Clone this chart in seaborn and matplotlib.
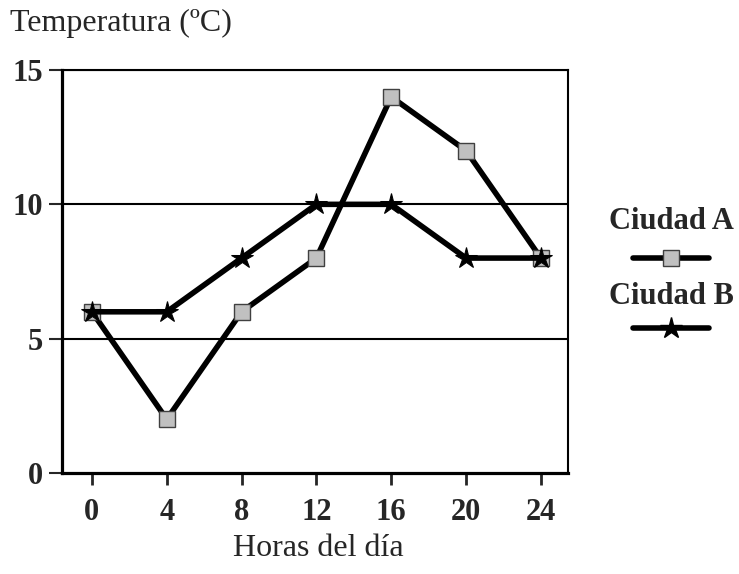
import pandas as pd
import numpy as np
import matplotlib.pyplot as plt
import seaborn as sns
from matplotlib.lines import Line2D

# data
horas = [0, 4, 8, 12, 16, 20, 24]
ciudad_a = [6, 2, 6, 8, 14, 12, 8]
ciudad_b = [6, 6, 8, 10, 10, 8, 8]
y_ticks = [0, 5, 10, 15]

df = pd.DataFrame({'horas': horas, 'Ciudad A': ciudad_a, 'Ciudad B': ciudad_b})

sns.set_style("white")
plt.rcParams['font.family'] = ['Liberation Serif', 'DejaVu Serif']

fig = plt.figure(figsize=(7.39, 5.74), dpi=100)
ax = fig.add_axes([62/739, 1-473/574, (568-62)/739, (473-70)/574])

# horizontal grid lines
for v in y_ticks[1:]:
    ax.axhline(v, color='black', lw=1.5, zorder=1)

sns.lineplot(data=df, x='horas', y='Ciudad A', ax=ax, color='black', lw=4,
             marker='s', markersize=12, markerfacecolor='#c0c0c0',
             markeredgecolor='#404040', markeredgewidth=1, zorder=3)
sns.lineplot(data=df, x='horas', y='Ciudad B', ax=ax, color='black', lw=4,
             marker='*', markersize=16, markerfacecolor='black',
             markeredgecolor='black', zorder=4)

ax.set_xlim(-1.6, 25.45)
ax.set_ylim(0, 15)
ax.set_xticks(horas)
ax.set_yticks(y_ticks)
ax.set_xticklabels([str(h) for h in horas], fontsize=22, fontweight='bold')
ax.set_yticklabels([str(v) for v in y_ticks], fontsize=22, fontweight='bold')
ax.tick_params(axis='x', direction='out', length=8.6, width=2, pad=9.5, bottom=True)
ax.tick_params(axis='y', direction='out', length=9.4, width=1.5, pad=4, left=True)
ax.set_xlabel('')
ax.set_ylabel('')

for s in ['left', 'bottom']:
    ax.spines[s].set_linewidth(2.3)
    ax.spines[s].set_color('black')
for s in ['top', 'right']:
    ax.spines[s].set_linewidth(1.5)
    ax.spines[s].set_color('black')

fig.text(10/739, 1-23/574, 'Temperatura (ºC)', fontsize=23, ha='left', va='center')
fig.text(318/739, 1-549/574, 'Horas del día', fontsize=23, ha='center', va='center')

# legend drawn by hand: label above its key
fig.text(671/739, 1-222/574, 'Ciudad A', fontsize=22, fontweight='bold', ha='center', va='center')
fig.text(671/739, 1-297/574, 'Ciudad B', fontsize=22, fontweight='bold', ha='center', va='center')
fig.add_artist(Line2D([633/739, 709/739], [1-258/574]*2, color='black', lw=4))
fig.add_artist(Line2D([671/739], [1-258/574], marker='s', markersize=12,
                      markerfacecolor='#c0c0c0', markeredgecolor='#404040', markeredgewidth=1))
fig.add_artist(Line2D([633/739, 709/739], [1-328/574]*2, color='black', lw=4))
fig.add_artist(Line2D([671/739], [1-328/574], marker='*', markersize=16, color='black'))

plt.savefig('out.png', dpi=100)
